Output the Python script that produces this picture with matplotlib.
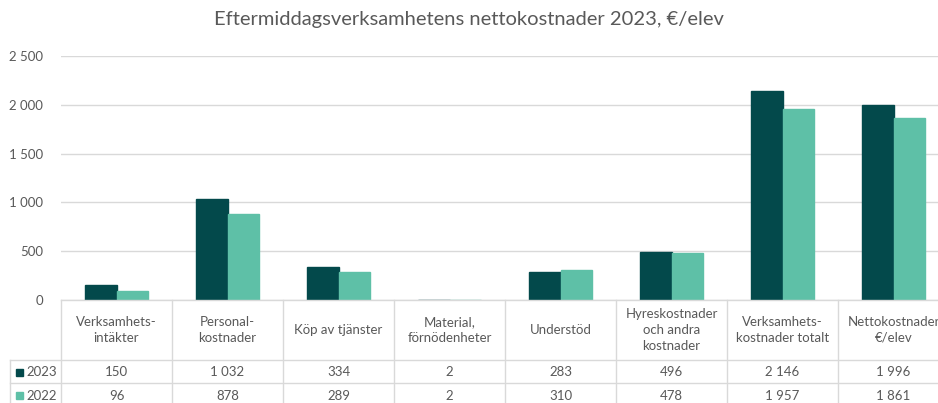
import matplotlib.pyplot as plt
import numpy as np

# Data
kategorier = ["Verksamhets-\nintäkter", "Personal-\nkostnader", "Köp av tjänster",
              "Material,\nförnödenheter", "Understöd", "Hyreskostnader\noch andra\nkostnader",
              "Verksamhets-\nkostnader totalt", "Nettokostnader\n€/elev"]
serier = ["2023", "2022"]
v2023 = [150, 1032, 334, 2, 283, 496, 2146, 1996]
v2022 = [96, 878, 289, 2, 310, 478, 1957, 1861]
y_ticks = [0, 500, 1000, 1500, 2000, 2500]

farger = ["#03494B", "#5EC0A7"]
grid_c = "#D9D9D9"
text_c = "#595959"
plt.rcParams['font.family'] = ['Lato', 'DejaVu Sans']


def fmt(v):
    return f"{v:,}".replace(",", " ")


W, H = 938, 403
fig = plt.figure(figsize=(W / 100, H / 100), dpi=100)

# plot area in pixels (left, top, right, bottom)
x0, x1 = 61, 949
y_top, y_zero = 56, 300
n = len(kategorier)
col_w = (x1 - x0) / n
fs = 9.5

ax = fig.add_axes([x0 / W, (H - y_zero) / H, (x1 - x0) / W, (y_zero - y_top) / H])
x = np.arange(n)
bw = 0.28
ax.bar(x - bw / 2, v2023, width=bw, color=farger[0], edgecolor=farger[0], linewidth=1.0, zorder=3)
ax.bar(x + bw / 2, v2022, width=bw, color=farger[1], edgecolor=farger[1], linewidth=1.0, zorder=3)
ax.set_xlim(-0.5, n - 0.5)
ax.set_ylim(0, 2500)
ax.set_yticks(y_ticks)
ax.set_yticklabels([fmt(t) for t in y_ticks], color=text_c, fontsize=fs)
ax.tick_params(axis="y", length=0, pad=13)
ax.set_xticks([])
ax.grid(axis="y", color=grid_c, linewidth=1, zorder=0)
for s in ax.spines.values():
    s.set_visible(False)

fig.text(0.5, 1 - 19 / H, "Eftermiddagsverksamhetens nettokostnader 2023, €/elev",
         ha="center", va="center", fontsize=14.5, color=text_c)

# data table under the chart, drawn in pixel coordinates
tab = fig.add_axes([0, 0, 1, 1], facecolor="none")
tab.set_xlim(0, W)
tab.set_ylim(H, 0)
tab.axis("off")

r_head, r1, r2, r3 = 300, 360, 383, 406
lw = 1
tab.plot([x0, x1], [r_head, r_head], color=grid_c, lw=lw)
for yy in (r1, r2, r3):
    tab.plot([10, x1], [yy, yy], color=grid_c, lw=lw)
tab.plot([10, 10], [r1, r3], color=grid_c, lw=lw)
for i in range(n + 1):
    xx = x0 + i * col_w
    tab.plot([xx, xx], [r_head, r3], color=grid_c, lw=lw)

for i, lab in enumerate(kategorier):
    cx = x0 + (i + 0.5) * col_w
    tab.text(cx, (r_head + r1) / 2, lab, ha="center", va="center",
             fontsize=fs, color=text_c, linespacing=1.4)
    tab.text(cx, (r1 + r2) / 2 + 1, fmt(v2023[i]), ha="center", va="center",
             fontsize=fs, color=text_c)
    tab.text(cx, (r2 + r3) / 2 + 1, fmt(v2022[i]), ha="center", va="center",
             fontsize=fs, color=text_c)

for j, (s, c) in enumerate(zip(serier, farger)):
    yc = (r1 + r2) / 2 + j * (r2 - r1)
    tab.add_patch(plt.Rectangle((16, yc - 3), 7, 7, color=c))
    tab.text(26, yc + 1, s, ha="left", va="center", fontsize=fs, color=text_c)

plt.savefig("out.png", dpi=100)
